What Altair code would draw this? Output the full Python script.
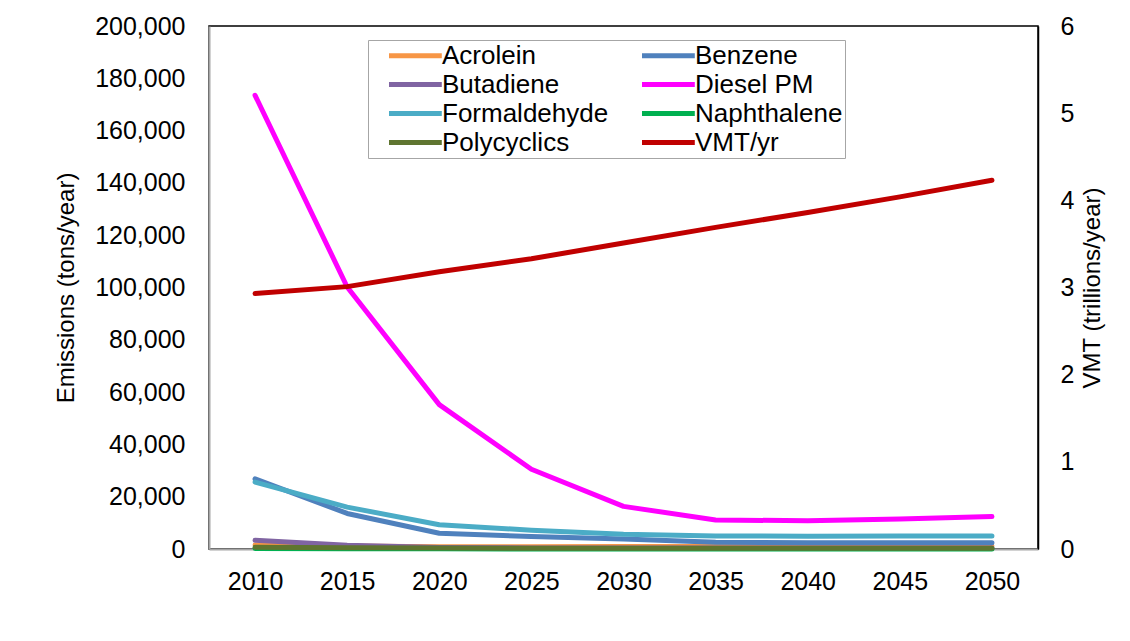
import altair as alt
import pandas as pd

years = [2010, 2015, 2020, 2025, 2030, 2035, 2040, 2045, 2050]

acrolein = [1500, 1100, 900, 900, 950, 1000, 1050, 1100, 1150]
benzene = [26800, 13600, 6000, 4800, 3800, 2600, 2400, 2400, 2400]
butadiene = [3300, 1400, 600, 400, 350, 350, 350, 350, 350]
diesel_pm = [173500, 100200, 55200, 30500, 16300, 11100, 10800, 11500, 12400]
formaldehyde = [25600, 16000, 9300, 7200, 5600, 5000, 4900, 5000, 5000]
naphthalene = [150, 80, 50, 40, 40, 40, 40, 40, 40]
polycyclics = [700, 450, 350, 300, 300, 300, 300, 300, 300]
vmt = [2.93, 3.01, 3.18, 3.33, 3.51, 3.69, 3.86, 4.04, 4.23]

# legend is laid out column by column: left column first, then right column
series_names = ["Acrolein", "Butadiene", "Formaldehyde", "Polycyclics",
                "Benzene", "Diesel PM", "Naphthalene", "VMT/yr"]
series_colors = ["#F79646", "#8064A2", "#4BACC6", "#5F7530",
                 "#4F81BD", "#FF00FF", "#00B050", "#C00000"]

emis = {
    "Acrolein": acrolein,
    "Benzene": benzene,
    "Butadiene": butadiene,
    "Diesel PM": diesel_pm,
    "Formaldehyde": formaldehyde,
    "Naphthalene": naphthalene,
    "Polycyclics": polycyclics,
}

rows = []
for name, vals in emis.items():
    for y, v in zip(years, vals):
        rows.append({"year": y, "series": name, "value": v})
emis_df = pd.DataFrame(rows)
vmt_df = pd.DataFrame({"year": years, "series": "VMT/yr", "value": vmt})

FONT = "Liberation Sans"

color = alt.Color(
    "series:N",
    scale=alt.Scale(domain=series_names, range=series_colors),
    legend=alt.Legend(
        title=None,
        orient="none",
        legendX=159,
        legendY=14,
        columns=2,
        gridAlign="all",
        symbolType="M0.5,0H5.3",
        symbolSize=484,
        symbolStrokeWidth=5,
        labelFontSize=26,
        labelFont=FONT,
        labelColor="#000000",
        labelOffset=45,
        columnPadding=14,
        rowPadding=2,
        padding=2,
        fillColor="#FFFFFF",
        strokeColor="#A6A6A6",
        labelLimit=400,
    ),
)

x = alt.X(
    "year:O",
    scale=alt.Scale(type="point", padding=0.5),
    axis=alt.Axis(
        title=None, labelAngle=0, labelFontSize=25, labelFont=FONT,
        labelColor="#000000", ticks=False, tickSize=0, labelPadding=20,
        domainColor="#A6A6A6", domainWidth=2, grid=False,
    ),
)

emis_lines = alt.Chart(emis_df).mark_line(
    strokeWidth=5, strokeCap="round", strokeJoin="round"
).encode(
    x=x,
    y=alt.Y(
        "value:Q",
        scale=alt.Scale(domain=[0, 200000], nice=False),
        axis=alt.Axis(
            title="Emissions (tons/year)", titleFontSize=24, titleFont=FONT,
            titleFontWeight="normal", titleColor="#000000", titlePadding=16,
            labelFontSize=25, labelFont=FONT, labelColor="#000000",
            values=list(range(0, 200001, 20000)), format=",.0f",
            ticks=False, tickSize=0, labelPadding=24,
            domainColor="#A6A6A6", domainWidth=2, grid=False,
        ),
    ),
    color=color,
)

vmt_line = alt.Chart(vmt_df).mark_line(
    strokeWidth=5, strokeCap="round", strokeJoin="round"
).encode(
    x=x,
    y=alt.Y(
        "value:Q",
        scale=alt.Scale(domain=[0, 6], nice=False),
        axis=alt.Axis(
            orient="right",
            title="VMT (trillions/year)", titleFontSize=24, titleFont=FONT,
            titleFontWeight="normal", titleColor="#000000", titlePadding=7,
            titleAngle=270, titleBaseline="top",
            labelFontSize=25, labelFont=FONT, labelColor="#000000",
            values=[0, 1, 2, 3, 4, 5, 6], format="d",
            ticks=False, tickSize=0, labelPadding=22,
            domainColor="#000000", domainWidth=1.5, grid=False,
        ),
    ),
    color=color,
)

chart = alt.layer(emis_lines, vmt_line).resolve_scale(
    y="independent"
).properties(
    width=829,
    height=523,
    autosize=alt.AutoSizeParams(type="none"),
    padding={"left": 201, "top": 18, "right": 84, "bottom": 80},
    background="#FFFFFF",
).configure_view(
    stroke="#000000", strokeWidth=1.5
)

chart.save("out.html", embed_options={"renderer": "svg", "actions": False})
